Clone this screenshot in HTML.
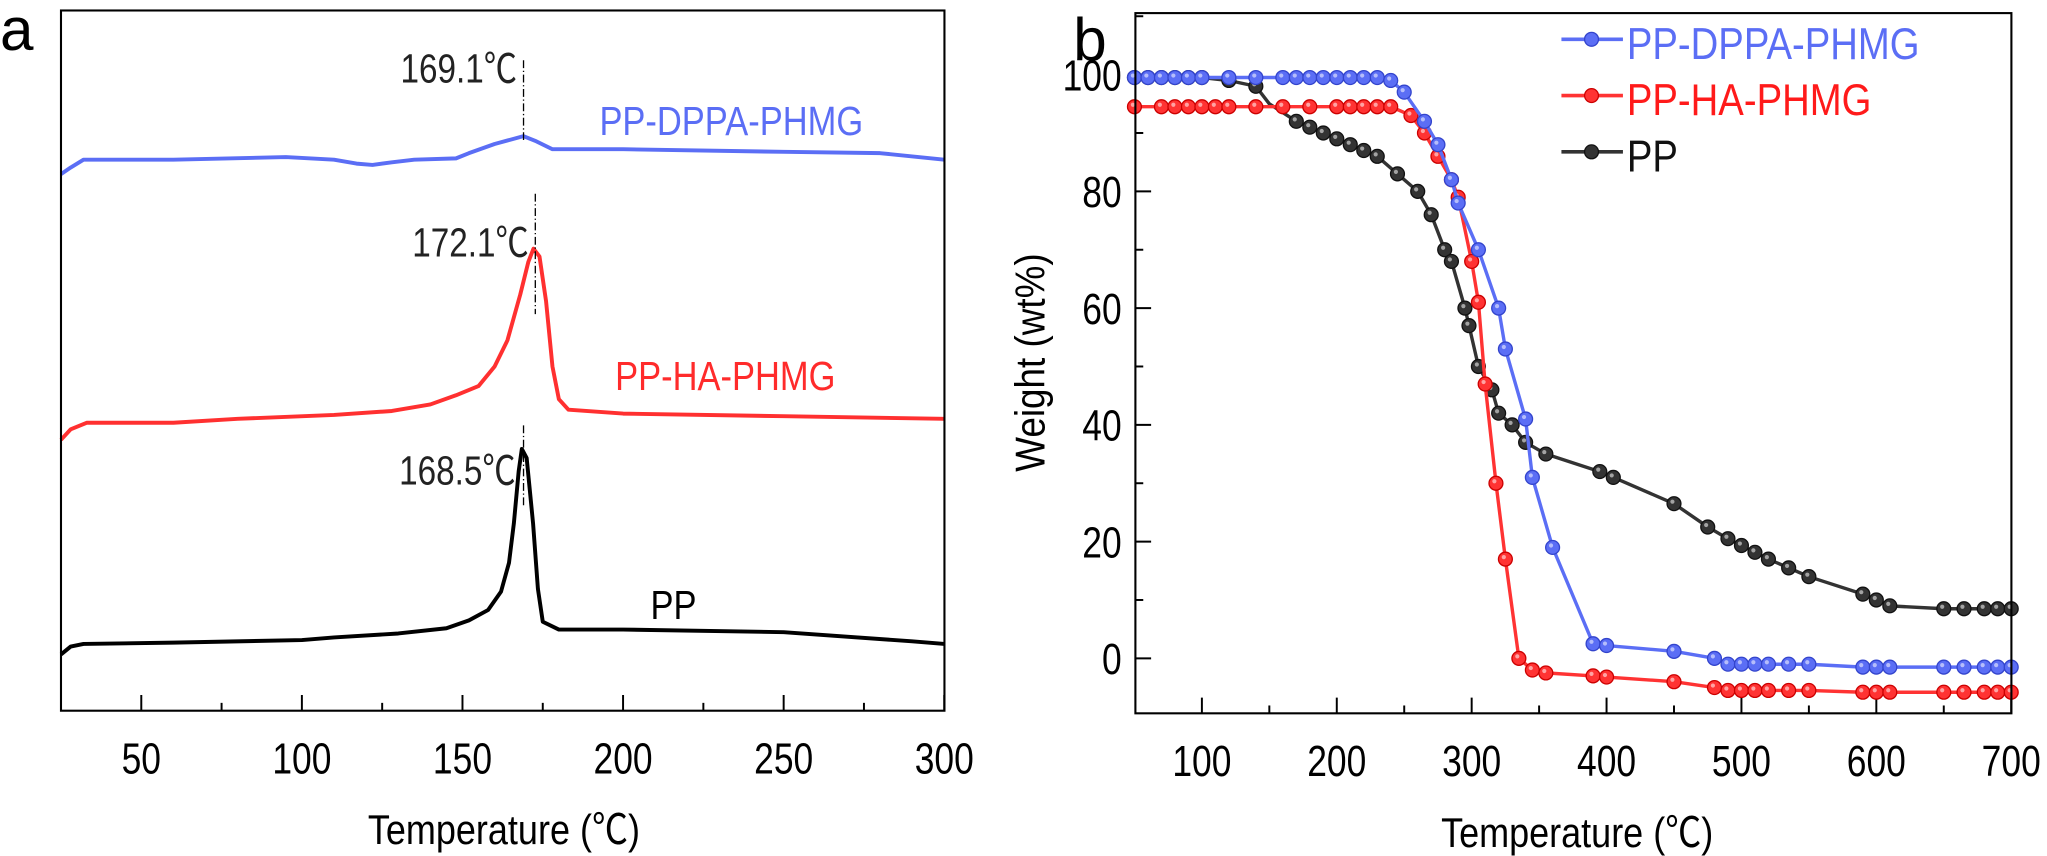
<!DOCTYPE html>
<html><head><meta charset="utf-8"><style>
html,body{margin:0;padding:0;background:#fff;width:2047px;height:856px;overflow:hidden}
svg{display:block}
text{font-family:"Liberation Sans","Noto Sans CJK SC","DejaVu Sans",sans-serif}
</style></head><body>
<svg id="s" width="2047" height="856" viewBox="0 0 1564 654" xmlns="http://www.w3.org/2000/svg">
<rect width="1564" height="654" fill="#fff"/>
<g id="g"></g>
<rect x="46.6" y="8" width="675" height="535" fill="none" stroke="#000" stroke-width="1.6"/>
<rect x="867.5" y="10" width="669.3" height="535" fill="none" stroke="#000" stroke-width="1.6"/>
<g id="t"></g>
<text transform="translate(798,277) rotate(-90) scale(0.88,1)" font-size="32" text-anchor="middle">Weight (wt%)</text>
<g stroke="#000" stroke-width="1" stroke-dasharray="6,2,1,2" fill="none">
<line x1="400" y1="46" x2="400" y2="108"/><line x1="409" y1="148" x2="409" y2="240"/><line x1="400" y1="325" x2="400" y2="388"/>
</g>
</svg>
<script>
var g=document.getElementById('g');var tg=document.getElementById('t');var NS='http://www.w3.org/2000/svg';
function el(t,a,p){var e=document.createElementNS(NS,t);for(var k in a)e.setAttribute(k,a[k]);(p||g).appendChild(e);return e;}
function T(x,y,s,size,anchor,fill,sx){var e=el('text',{transform:'translate('+x+','+y+') scale('+(sx||0.82)+',1)','font-size':size,'text-anchor':anchor||'start',fill:fill||'#000'},tg);e.textContent=s;}
function xa(t){return 46.6+(t-25)*2.454;}
function xb(t){return 918.3+(t-100)*1.0306;}
function yb(W){return 503-W*4.46;}
T(0,38,'a',46,'start','#000',1);T(820,46,'b',46,'start','#000',1);
[50,100,150,200,250,300].forEach(function(t){T(xa(t),591,''+t,33,'middle');});
[100,200,300,400,500,600,700].forEach(function(t){T(xb(t),593,''+t,33,'middle');});
[0,20,40,60,80,100].forEach(function(w){T(857,yb(w)+12,''+w,33,'end');});
T(385,645,'Temperature (℃)',32,'middle','#000',0.86);T(1205,647,'Temperature (℃)',32,'middle','#000',0.86);
T(395,63,'169.1℃',31,'end','#222');T(404,196,'172.1℃',31,'end','#222');T(394,370,'168.5℃',31,'end','#222');
T(458,103,'PP-DPPA-PHMG',31,'start','#5b6ef5',0.85);T(470,298,'PP-HA-PHMG',31,'start','#ff2b2b',0.85);T(497,473,'PP',31,'start','#000',0.85);
T(1243,45,'PP-DPPA-PHMG',34,'start','#5b6ef5',0.86);T(1243,88,'PP-HA-PHMG',34,'start','#ff1a1a',0.86);T(1243,131,'PP',34,'start','#111',0.86);
for(var t=50;t<=300;t+=25){var maj=t%50==0;el('line',{x1:xa(t),x2:xa(t),y1:543,y2:543-(maj?12:6),stroke:'#000','stroke-width':1.5});}
for(var t=100;t<=700;t+=50){var maj=t%100==0;el('line',{x1:xb(t),x2:xb(t),y1:545,y2:545-(maj?12:6),stroke:'#000','stroke-width':1.5});}
for(var W=0;W<=110;W+=10){var maj=W%20==0;var y=yb(W);if(y<10)continue;el('line',{x1:867.5,x2:867.5+(maj?12:6),y1:y,y2:y,stroke:'#000','stroke-width':1.5});}
function dsc(pts,c){var d=pts.map(function(p,i){return (i?'L':'M')+xa(p[0]).toFixed(1)+','+p[1];}).join(' ');el('path',{d:d,fill:'none',stroke:c,'stroke-width':3,'stroke-linejoin':'round'});}
dsc([[25,133],[28,128],[32,122],[40,122],[60,122],[95,120],[110,122],[117,125],[122,126],[128,124],[135,122],[148,121],[152,117],[160,110],[169,104],[173,108],[178,114],[200,114],[250,116],[280,117],[300,122]],'#5b6ef5');
dsc([[25,336],[28,328],[33,323],[60,323],[80,320],[110,317],[128,314],[140,309],[148,302],[155,295],[160,280],[164,260],[168,225],[170.5,200],[172.1,190],[174,196],[176,230],[178,280],[180,305],[183,313],[200,316],[250,318],[300,320]],'#ff3030');
dsc([[25,500],[28,494],[32,492],[60,491],[100,489],[110,487],[130,484],[145,480],[152,474],[158,466],[162,452],[164.5,430],[166,400],[167.5,360],[168.5,343],[170,350],[172,400],[173.5,450],[175,475],[180,481],[200,481],[250,483],[290,490],[300,492]],'#000');
function interp(p,t){for(var i=1;i<p.length;i++){if(t<=p[i][0]){var a=p[i-1],b=p[i];return a[1]+(b[1]-a[1])*(t-a[0])/(b[0]-a[0]);}}return p[p.length-1][1];}
function tga(pts,c,mk,dark){var d=pts.map(function(p,i){return (i?'L':'M')+xb(p[0]).toFixed(1)+','+yb(p[1]).toFixed(1);}).join(' ');
el('path',{d:d,fill:'none',stroke:c,'stroke-width':2.6,'stroke-linejoin':'round'});
mk.forEach(function(t){var W=interp(pts,t);el('circle',{cx:xb(t),cy:yb(W),r:5.3,fill:c,stroke:dark,'stroke-width':1});el('circle',{cx:xb(t)-1.2,cy:yb(W)-1.5,r:1.6,fill:'#fff','fill-opacity':0.55});});}
var blue=[[50,99.5],[230,99.5],[240,99],[250,97],[265,92],[275,88],[285,82],[290,78],[305,70],[320,60],[325,53],[340,41],[345,31],[360,19],[390,2.5],[400,2.2],[450,1.2],[480,0],[490,-1],[550,-1],[590,-1.5],[700,-1.5]];
var red=[[50,94.5],[240,94.5],[255,93],[265,90],[275,86],[285,82],[290,79],[300,68],[305,61],[310,47],[318,30],[325,17],[335,0],[345,-2],[355,-2.5],[390,-3],[400,-3.2],[450,-4],[480,-5],[490,-5.5],[550,-5.5],[590,-5.8],[700,-5.8]];
var blk=[[50,99.5],[100,99.5],[120,99],[140,98],[150,95],[170,92],[190,90],[210,88],[230,86],[245,83],[260,80],[270,76],[280,70],[285,68],[295,60],[298,57],[305,50],[315,46],[320,42],[330,40],[340,37],[355,35],[395,32],[405,31],[450,26.5],[475,22.5],[490,20.5],[520,17],[550,14],[590,11],[610,9],[650,8.5],[700,8.5]];
tga(blk,'#333',[50,60,70,80,90,100,120,140,170,180,190,200,210,220,230,245,260,270,280,285,295,298,305,315,320,330,340,355,395,405,450,475,490,500,510,520,535,550,590,600,610,650,665,680,690,700],'#111');
tga(red,'#ff3333',[50,70,80,90,100,110,120,140,160,180,200,210,220,230,240,255,265,275,285,290,300,305,310,318,325,335,345,355,390,400,450,480,490,500,510,520,535,550,590,600,610,650,665,680,690,700],'#c00');
tga(blue,'#5b6ef5',[50,60,70,80,90,100,120,140,160,170,180,190,200,210,220,230,240,250,265,275,285,290,305,320,325,340,345,360,390,400,450,480,490,500,510,520,535,550,590,600,610,650,665,680,690,700],'#3344cc');
[[30,'#5b6ef5','#3344cc'],[73,'#ff3333','#c00'],[116,'#333','#111']].forEach(function(l){el('line',{x1:1193,x2:1240,y1:l[0],y2:l[0],stroke:l[1],'stroke-width':2.8});el('circle',{cx:1216,cy:l[0],r:5.3,fill:l[1],stroke:l[2],'stroke-width':1});});
</script>
</body></html>
